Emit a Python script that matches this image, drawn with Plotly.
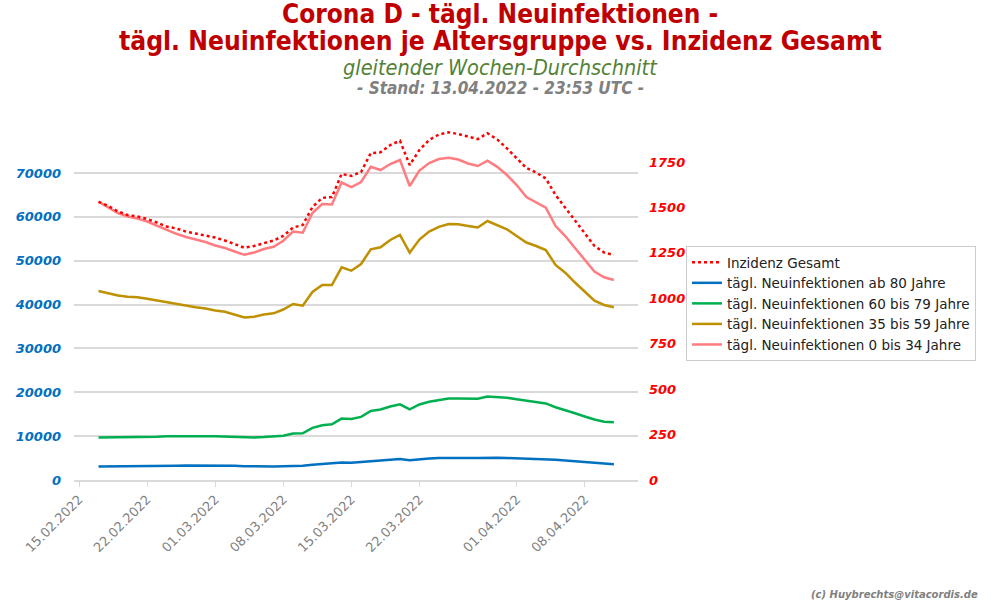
import plotly.graph_objects as go
import pandas as pd

dates = pd.date_range("2022-02-17", "2022-04-11", freq="D")

inzidenz = [1531, 1508, 1478, 1458, 1450, 1436, 1417, 1395, 1384, 1367, 1356, 1345, 1334, 1318,
            1299, 1278, 1288, 1304, 1318, 1343, 1389, 1403, 1502, 1552, 1557, 1684, 1673, 1695,
            1799, 1803, 1843, 1867, 1733, 1816, 1871, 1901, 1913, 1904, 1888, 1876, 1908, 1874,
            1825, 1772, 1717, 1692, 1659, 1568, 1497, 1425, 1354, 1288, 1252, 1238]

ab80 = [3100, 3100, 3100, 3120, 3150, 3150, 3150, 3200, 3250, 3300, 3320, 3320, 3300, 3300,
        3250, 3150, 3100, 3100, 3100, 3150, 3200, 3250, 3500, 3650, 3700, 4000, 3950, 4100,
        4400, 4500, 4700, 4800, 4500, 4750, 4900, 5000, 5050, 5050, 5000, 5000, 5100, 5050,
        5000, 4950, 4900, 4850, 4800, 4600, 4450, 4250, 4050, 3850, 3650, 3600]

a60_79 = [9700, 9700, 9750, 9780, 9800, 9800, 9850, 9950, 10000, 10050, 10050, 10000, 9950, 9900,
          9800, 9650, 9700, 9800, 9900, 10100, 10600, 10650, 11900, 12500, 12700, 14000, 13900, 14400,
          15732, 16074, 16758, 17260, 16120, 17214, 17830, 18240, 18582, 18582, 18560, 18536, 19060, 18924,
          18764, 18400, 18103, 17784, 17465, 16598, 15960, 15208, 14478, 13794, 13292, 13156]

a35_59 = [43092, 42568, 42066, 41792, 41678, 41336, 40926, 40516, 40242, 39832, 39398, 39102, 38646, 38372,
          37734, 37050, 37232, 37734, 38008, 38874, 40128, 39740, 42864, 44460, 44460, 48496, 47720, 49248,
          52600, 53056, 54720, 55860, 51824, 54834, 56658, 57730, 58368, 58300, 57912, 57570, 59052, 58140,
          57160, 55632, 54150, 53352, 52440, 49020, 47264, 45030, 42978, 40880, 39900, 39376]

a0_34 = [63452, 62244, 60876, 60078, 59622, 58938, 57958, 57000, 56134, 55404, 54788, 54264, 53466, 52896,
         52098, 51346, 51870, 52668, 53192, 54560, 56658, 56384, 60876, 62928, 62814, 67830, 66804, 67944,
         71432, 70680, 72048, 72960, 67032, 70566, 72276, 73188, 73484, 73074, 72162, 71592, 72800, 71410,
         69540, 67260, 64524, 63270, 62084, 57912, 55632, 52896, 50160, 47538, 46216, 45600]

x_tick_dates = ["2022-02-15", "2022-02-22", "2022-03-01", "2022-03-08", "2022-03-15",
                "2022-03-22", "2022-04-01", "2022-04-08"]
x_tick_text = ["15.02.2022", "22.02.2022", "01.03.2022", "08.03.2022", "15.03.2022",
               "22.03.2022", "01.04.2022", "08.04.2022"]
left_ticks = [0, 10000, 20000, 30000, 40000, 50000, 60000, 70000]
right_ticks = [0, 250, 500, 750, 1000, 1250, 1500, 1750]

FONT = "DejaVu Sans"
COND = "DejaVu Sans Condensed, DejaVu Sans"

fig = go.Figure()
fig.add_trace(go.Scatter(x=dates, y=inzidenz, name="Inzidenz Gesamt", yaxis="y2", mode="lines",
                         line=dict(color="#FF0000", width=2.5, dash="dot")))
fig.add_trace(go.Scatter(x=dates, y=ab80, name="tägl. Neuinfektionen ab 80 Jahre", mode="lines",
                         line=dict(color="#0070C0", width=2.5)))
fig.add_trace(go.Scatter(x=dates, y=a60_79, name="tägl. Neuinfektionen 60 bis 79 Jahre", mode="lines",
                         line=dict(color="#00B050", width=2.5)))
fig.add_trace(go.Scatter(x=dates, y=a35_59, name="tägl. Neuinfektionen 35 bis 59 Jahre", mode="lines",
                         line=dict(color="#BF9000", width=2.5)))
fig.add_trace(go.Scatter(x=dates, y=a0_34, name="tägl. Neuinfektionen 0 bis 34 Jahre", mode="lines",
                         line=dict(color="#FF7C80", width=2.5)))

ML, MR, MT, MB = 74, 362, 120, 120
PW, PH = 1000 - ML - MR, 600 - MT - MB

def py(ypx):
    return (600 - MB - ypx) / PH

def px(xpx):
    return (xpx - ML) / PW

annos = [
    dict(text="<b>Corona D - tägl. Neuinfektionen -</b>", y=py(14), size=26, color="#C00000", style="normal"),
    dict(text="<b>tägl. Neuinfektionen je Altersgruppe vs. Inzidenz Gesamt</b>", y=py(41), size=26.2, color="#C00000", style="normal"),
    dict(text="gleitender Wochen-Durchschnitt", y=py(67), size=21.5, color="#538135", style="italic"),
    dict(text="<b>- Stand: 13.04.2022 - 23:53 UTC -</b>", y=py(88), size=17, color="#808080", style="italic"),
]
annotations = []
for a in annos:
    annotations.append(dict(text=a["text"], xref="paper", x=px(500), y=a["y"], yref="paper",
                            xanchor="center", yanchor="middle", showarrow=False,
                            font=dict(family=COND, size=a["size"], color=a["color"], style=a["style"])))
annotations.append(dict(text="<b>(c) Huybrechts@vitacordis.de</b>", xref="paper", yref="paper",
                        x=px(980), y=py(594), xanchor="right", yanchor="middle", showarrow=False,
                        font=dict(family=FONT, size=10, color="#808080", style="italic")))

fig.update_layout(
    width=1000, height=600,
    margin=dict(l=ML, r=MR, t=MT, b=MB, autoexpand=False),
    paper_bgcolor="white", plot_bgcolor="white",
    showlegend=True,
    legend=dict(x=px(686), y=py(246), xanchor="left", yanchor="top",
                bordercolor="#CCCCCC", borderwidth=1, bgcolor="white",
                font=dict(family=FONT, size=13.5, color="#222222"), tracegroupgap=0),
    xaxis=dict(type="date", range=["2022-02-14 11:30", "2022-04-13 11:30"],
               tickvals=x_tick_dates, ticktext=x_tick_text, tickangle=-45,
               tickfont=dict(family=FONT, size=13, color="#808080"),
               showgrid=False, showline=True, linecolor="#D9D9D9", linewidth=1.5,
               ticks="outside", ticklen=5, tickcolor="#D9D9D9", zeroline=False),
    yaxis=dict(range=[0, 82085], tickvals=left_ticks, ticktext=[str(v) for v in left_ticks],
               tickfont=dict(family=FONT, size=13, color="#0070C0", weight="bold", style="italic"),
               showgrid=True, gridcolor="#D9D9D9", gridwidth=1.5, zeroline=False,
               ticks="", ticklabelstandoff=12),
    yaxis2=dict(range=[0, 1981], tickvals=right_ticks, ticktext=[str(v) for v in right_ticks],
                overlaying="y", side="right", showgrid=False, zeroline=False,
                tickfont=dict(family=FONT, size=13, color="#FF0000", weight="bold", style="italic"),
                ticks="", ticklabelstandoff=10),
    annotations=annotations,
)

fig.write_html("out.html", config={"displayModeBar": False},
               post_script="document.body.style.margin='0px';document.body.style.padding='0px';")
